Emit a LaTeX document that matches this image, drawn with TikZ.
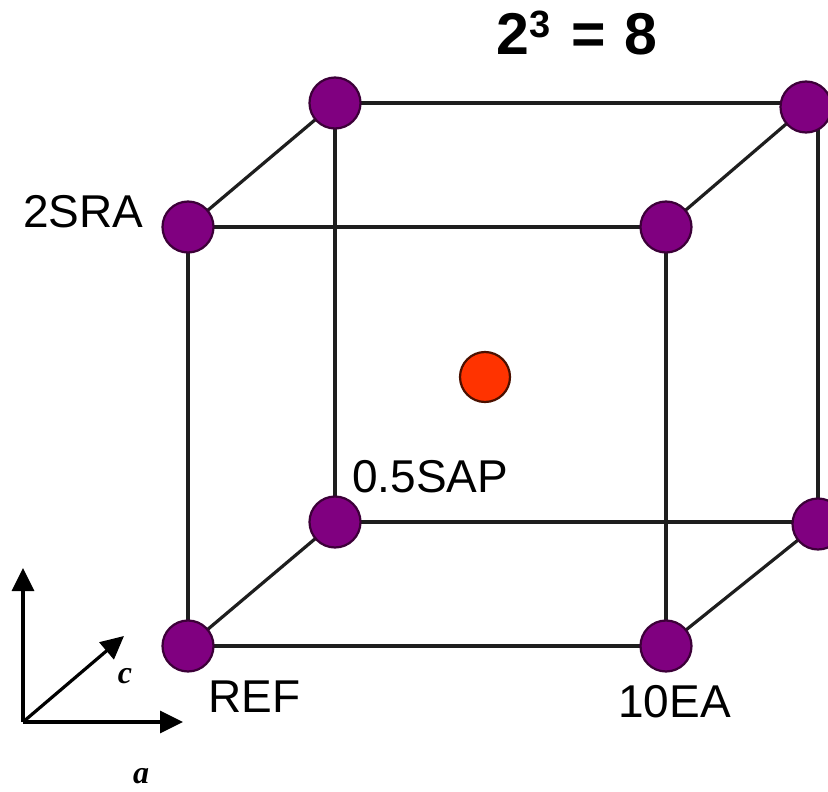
\documentclass[tikz,border=0pt]{standalone}
\usepackage{fontspec}
\setmainfont{Liberation Sans}
\newfontfamily\serifit{Liberation Serif}
\usetikzlibrary{arrows.meta}
\definecolor{vpurple}{HTML}{800080}
\definecolor{vpurpleedge}{HTML}{3C0038}
\definecolor{vred}{HTML}{FF3300}
\definecolor{vrededge}{HTML}{4A1000}
\definecolor{edgecol}{HTML}{1E1E1E}
\tikzset{
  vert/.style={circle, fill=vpurple, draw=vpurpleedge, line width=2.2pt, minimum size=51pt, inner sep=0pt},
  center/.style={circle, fill=vred, draw=vrededge, line width=2.2pt, minimum size=50pt, inner sep=0pt},
  cubeedge/.style={draw=edgecol, line width=3.2pt},
  lbl/.style={font=\fontsize{46}{50}\selectfont, inner sep=0pt, anchor=base west},
  axisarrow/.style={draw=black, line width=3.2pt, -{Triangle[length=23pt, width=22pt]}},
  axislbl/.style={font=\serifit\bfseries\itshape\fontsize{32}{34}\selectfont, inner sep=0pt}
}
\begin{document}
\begin{tikzpicture}[x=1pt, y=-1pt]
\useasboundingbox (0,0) rectangle (828,792);
% vertex positions
\coordinate (pFLB) at (188,646);
\coordinate (pFRB) at (666,646);
\coordinate (pFLT) at (188,227);
\coordinate (pFRT) at (666,227);
\coordinate (pBLB) at (335,522);
\coordinate (pBRB) at (818,524);
\coordinate (pBLT) at (335,103);
\coordinate (pBRT) at (806,107);
% edges
\draw[cubeedge] (pFLB) -- (pFRB) -- (pFRT) -- (pFLT) -- cycle;
\draw[cubeedge] (pBLB) -- (pBLB -| pBRB);
\draw[cubeedge] (pBLB) -- (pBLT);
\draw[cubeedge] (pBLT) -- (pBLT -| pBRB);
\draw[cubeedge] (pBRB) -- (pBRB |- pBLT);
\draw[cubeedge] (pFLB) -- (pBLB);
\draw[cubeedge] (pFRB) -- (pBRB);
\draw[cubeedge] (pFLT) -- (pBLT);
\draw[cubeedge] (pFRT) -- (pBRT);
% vertices
\node[vert] (FLB) at (pFLB) {};
\node[vert] (FRB) at (pFRB) {};
\node[vert] (FLT) at (pFLT) {};
\node[vert] (FRT) at (pFRT) {};
\node[vert] (BLB) at (pBLB) {};
\node[vert] (BRB) at (pBRB) {};
\node[vert] (BLT) at (pBLT) {};
\node[vert] (BRT) at (pBRT) {};
\node[center] (CP) at (485,377) {};
% labels
\node[lbl] (tSRA) at (23,227) {2SRA};
\node[lbl] (tREF) at (208,712) {REF};
\node[lbl] (tSAP) at (352,492) {0.5SAP};
\node[lbl] (tEA) at (618,717) {10EA};
\node[inner sep=0pt, anchor=base west, font=\bfseries\fontsize{59}{60}\selectfont] (title) at (496,55) {2\raisebox{17pt}{\fontsize{38}{38}\selectfont 3}\hspace{21pt}=\hspace{19pt}8};
% axes
\coordinate (o) at (23,722);
\coordinate (aUp) at (23,568);
\coordinate (aRight) at (183,722);
\coordinate (aDiag) at (124,636);
\draw[axisarrow] (o) -- (aUp);
\draw[axisarrow] (o) -- (aRight);
\draw[axisarrow] (o) -- (aDiag);
\node[axislbl] (lc) at (125,676) {c};
\node[axislbl] (la) at (141,776) {a};
\end{tikzpicture}
\end{document}
